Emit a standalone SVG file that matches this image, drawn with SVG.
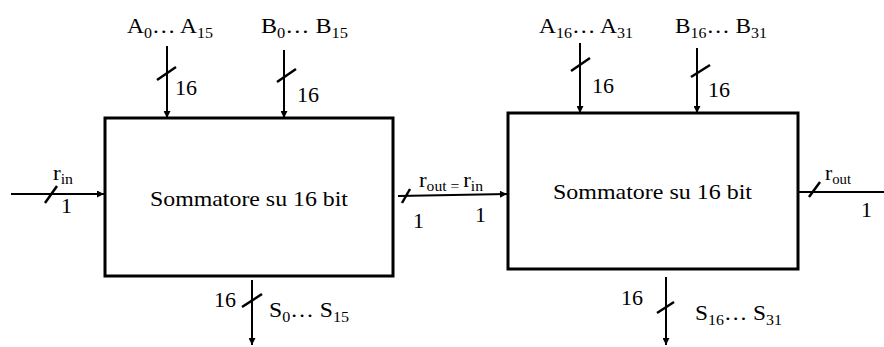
<svg xmlns="http://www.w3.org/2000/svg" width="884" height="347" viewBox="0 0 884 347" font-family="'Liberation Serif', 'DejaVu Serif', serif">
<style>
text{font-family:'Liberation Serif','DejaVu Serif',serif;font-size:22px;fill:#000}
.sub{font-size:15px}
.box{fill:#fff;stroke:#000;stroke-width:3}
.wire{stroke:#000;stroke-width:2;fill:none}
.slash{stroke:#000;stroke-width:2.5;fill:none}
</style>
<defs>
<marker id="arr" viewBox="0 0 10 10" refX="10" refY="5" markerWidth="9" markerHeight="7" markerUnits="userSpaceOnUse" orient="auto">
<path d="M0,0 L10,5 L0,10 z" fill="#000"/>
</marker>
</defs>
<g id="adder1">
<rect class="box" x="105" y="118" width="288" height="158"/>
<text x="150" y="206" textLength="198" lengthAdjust="spacingAndGlyphs">Sommatore su 16 bit</text>
</g>
<g id="adder2">
<rect class="box" x="508" y="113" width="290" height="156"/>
<text x="553" y="199" textLength="199" lengthAdjust="spacingAndGlyphs">Sommatore su 16 bit</text>
</g>
<g id="labels">
<text x="127" y="33" textLength="86" lengthAdjust="spacingAndGlyphs">A<tspan class="sub" dy="5">0</tspan><tspan dy="-5">… A</tspan><tspan class="sub" dy="5">15</tspan></text>
<text x="261" y="33" textLength="87" lengthAdjust="spacingAndGlyphs">B<tspan class="sub" dy="5">0</tspan><tspan dy="-5">… B</tspan><tspan class="sub" dy="5">15</tspan></text>
<text x="539" y="33" textLength="94" lengthAdjust="spacingAndGlyphs">A<tspan class="sub" dy="5">16</tspan><tspan dy="-5">… A</tspan><tspan class="sub" dy="5">31</tspan></text>
<text x="675" y="33" textLength="92" lengthAdjust="spacingAndGlyphs">B<tspan class="sub" dy="5">16</tspan><tspan dy="-5">… B</tspan><tspan class="sub" dy="5">31</tspan></text>
<text x="269" y="317" textLength="80" lengthAdjust="spacingAndGlyphs">S<tspan class="sub" dy="5">0</tspan><tspan dy="-5">… S</tspan><tspan class="sub" dy="5">15</tspan></text>
<text x="695" y="320" textLength="87" lengthAdjust="spacingAndGlyphs">S<tspan class="sub" dy="5">16</tspan><tspan dy="-5">… S</tspan><tspan class="sub" dy="5">31</tspan></text>
<text x="53" y="180" textLength="20" lengthAdjust="spacingAndGlyphs">r<tspan class="sub" dy="4">in</tspan></text>
<text x="419" y="187" textLength="64" lengthAdjust="spacingAndGlyphs">r<tspan class="sub" dy="4">out = </tspan><tspan dy="-4">r</tspan><tspan class="sub" dy="4">in</tspan></text>
<text x="825" y="180" textLength="26" lengthAdjust="spacingAndGlyphs">r<tspan class="sub" dy="4">out</tspan></text>
<text x="175" y="95">16</text>
<text x="297" y="102">16</text>
<text x="592" y="93">16</text>
<text x="708" y="97">16</text>
<text x="214" y="307">16</text>
<text x="621" y="305">16</text>
<text x="61" y="213">1</text>
<text x="413" y="228">1</text>
<text x="475" y="222">1</text>
<text x="861" y="217">1</text>
</g>
<g id="connectors">
<line class="wire" x1="167" y1="46" x2="167" y2="118" marker-end="url(#arr)"/>
<line class="wire" x1="284" y1="50" x2="284" y2="118" marker-end="url(#arr)"/>
<line class="wire" x1="580" y1="43" x2="580" y2="113" marker-end="url(#arr)"/>
<line class="wire" x1="697" y1="48" x2="697" y2="113" marker-end="url(#arr)"/>
<line class="wire" x1="11" y1="194" x2="104" y2="194" marker-end="url(#arr)"/>
<line class="wire" x1="398" y1="196" x2="507" y2="194" marker-end="url(#arr)"/>
<line class="wire" x1="798" y1="192" x2="884" y2="192"/>
<line class="wire" x1="252" y1="280" x2="252" y2="345" marker-end="url(#arr)"/>
<line class="wire" x1="666" y1="277" x2="666" y2="345" marker-end="url(#arr)"/>
<line class="slash" x1="157" y1="80" x2="176" y2="67"/>
<line class="slash" x1="277" y1="82" x2="296" y2="69"/>
<line class="slash" x1="571" y1="71" x2="590" y2="58"/>
<line class="slash" x1="691" y1="77" x2="710" y2="65"/>
<line class="slash" x1="45" y1="203" x2="57" y2="186"/>
<line class="slash" x1="402" y1="203" x2="410" y2="189"/>
<line class="slash" x1="809" y1="197" x2="820" y2="182"/>
<line class="slash" x1="242" y1="307" x2="262" y2="294"/>
<line class="slash" x1="657" y1="313" x2="674" y2="302"/>
</g>
</svg>
